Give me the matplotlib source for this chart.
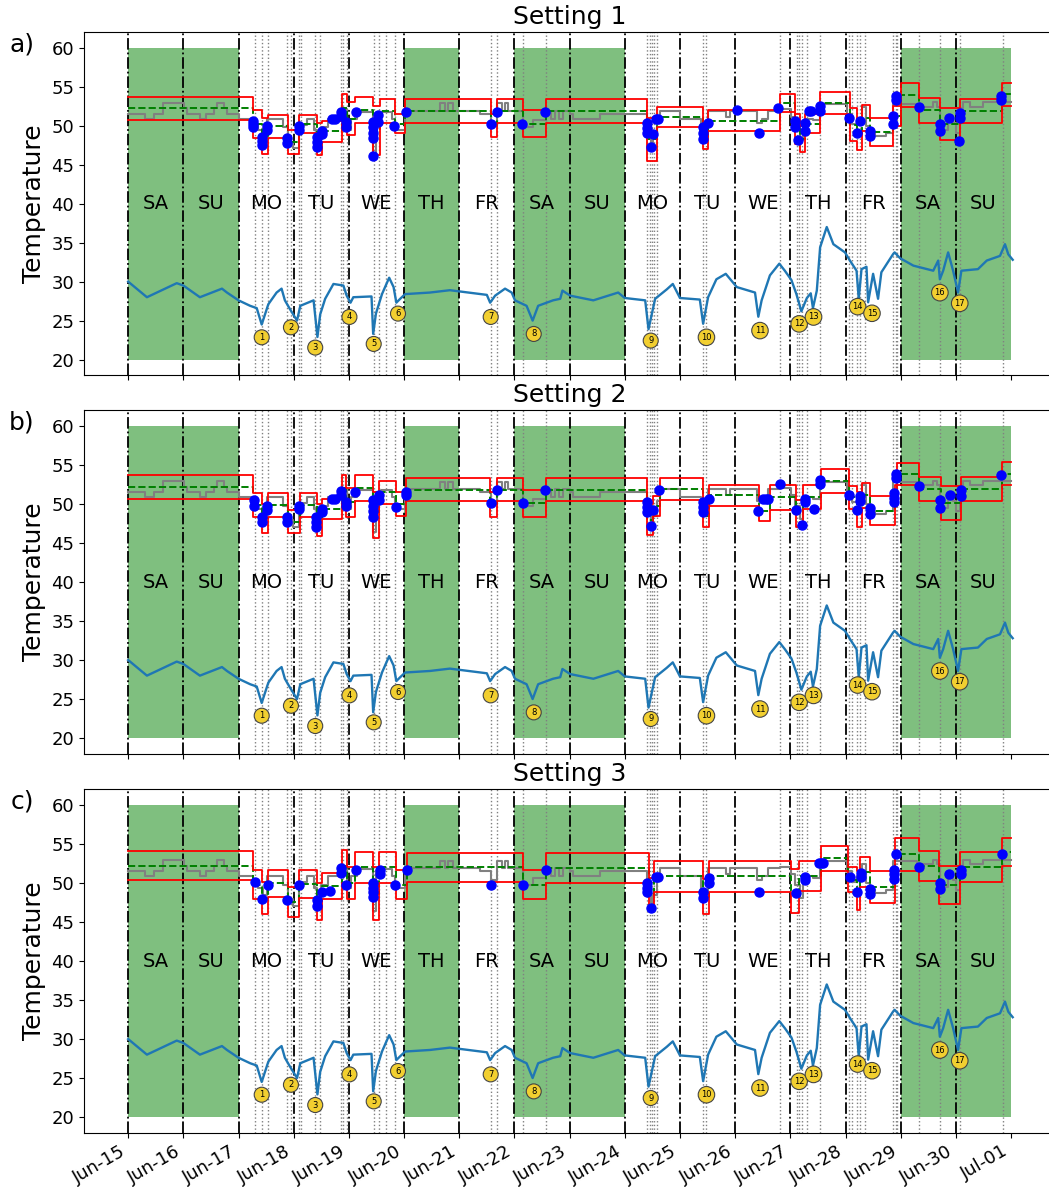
import matplotlib
matplotlib.use('Agg')
import matplotlib.pyplot as plt

# day-of-week names (one per day starting Jun-15) and date tick labels
day_names = ['SA', 'SU', 'MO', 'TU', 'WE', 'TH', 'FR', 'SA', 'SU',
             'MO', 'TU', 'WE', 'TH', 'FR', 'SA', 'SU']
date_labels = ['Jun-15', 'Jun-16', 'Jun-17', 'Jun-18', 'Jun-19', 'Jun-20',
               'Jun-21', 'Jun-22', 'Jun-23', 'Jun-24', 'Jun-25', 'Jun-26',
               'Jun-27', 'Jun-28', 'Jun-29', 'Jun-30', 'Jul-01']
# non-working periods (days after Jun-15)
off_start = [0, 5, 7, 14]
off_end = [2, 6, 9, 16]

# outdoor/room temperature trace (days after Jun-15, deg)
temp_t = [0.00, 0.34, 0.88, 1.00, 1.30, 1.70, 1.79, 2.00, 2.21, 2.33, 2.42, 2.54,
          2.69, 2.78, 2.84, 2.93, 3.06, 3.12, 3.36, 3.43, 3.48, 3.57, 3.72, 3.90,
          3.96, 4.03, 4.08, 4.41, 4.44, 4.49, 4.60, 4.73, 4.81, 4.86, 4.93, 5.02,
          5.47, 5.83, 6.50, 6.56, 6.65, 6.83, 6.95, 7.01, 7.22, 7.33, 7.43, 7.70,
          7.83, 7.87, 8.01, 8.43, 8.88, 9.00, 9.37, 9.43, 9.55, 9.76, 9.87, 10.00,
          10.36, 10.42, 10.51, 10.66, 10.83, 11.03, 11.36, 11.42, 11.48, 11.63,
          11.80, 11.90, 12.02, 12.11, 12.20, 12.30, 12.37, 12.41, 12.48, 12.54,
          12.66, 12.78, 12.99, 13.08, 13.20, 13.24, 13.29, 13.38, 13.41, 13.50,
          13.59, 13.65, 13.86, 13.89, 13.99, 14.23, 14.59, 14.68, 14.71, 14.77,
          14.86, 14.95, 15.04, 15.10, 15.40, 15.56, 15.80, 15.89, 15.95, 16.03]
temp_v = [30.0, 28.0, 29.8, 29.5, 28.0, 29.1, 28.6, 27.6, 26.9, 26.6, 24.5, 27.1,
          28.6, 29.1, 27.6, 26.5, 25.0, 26.9, 27.6, 22.9, 25.8, 27.8, 29.7, 29.5,
          28.2, 27.3, 28.0, 28.1, 23.3, 25.9, 28.4, 30.5, 29.3, 27.3, 27.8, 28.4,
          28.6, 28.9, 28.3, 27.3, 28.2, 29.1, 28.6, 27.6, 26.9, 25.0, 26.9, 27.6,
          27.8, 28.85, 28.2, 27.6, 28.6, 27.9, 27.6, 23.9, 27.8, 29.0, 29.7, 27.9,
          27.7, 24.6, 28.0, 30.3, 31.0, 29.3, 28.6, 25.5, 27.6, 30.8,
          32.3, 31.4, 30.2, 28.4, 26.2, 27.9, 28.5, 26.6, 28.85, 34.4,
          37.0, 34.8, 33.75, 32.7, 31.4, 27.8, 31.6, 31.9, 27.35, 31.0,
          27.8, 31.2, 33.5, 33.75, 33.0, 32.05, 31.4, 32.7, 30.3, 31.4,
          33.75, 31.4, 28.6, 31.4, 31.6, 32.7, 33.3, 34.8, 33.5, 32.8]

# numbered events
event_t = [2.42, 2.95, 3.39, 4.01, 4.45, 4.89, 6.57, 7.35, 9.47, 10.48, 11.45,
           12.16, 12.42, 13.22, 13.48, 14.71, 15.07]
event_v = [22.86, 24.14, 21.54, 25.47, 22.01, 25.90, 25.47, 23.29, 22.44, 22.86,
           23.72, 24.58, 25.47, 26.79, 25.94, 28.59, 27.22]
# control action times
action_t = [2.29, 2.42, 2.53, 2.87, 2.95, 3.09, 3.13, 3.39, 3.48, 3.86, 3.90, 3.96,
            4.46, 4.55, 4.67, 4.84, 6.57, 6.68, 7.15, 7.57, 9.41, 9.45, 9.49, 9.53,
            9.58, 10.42, 10.47, 11.81, 12.12, 12.16, 12.21, 12.30, 12.54, 13.07,
            13.11, 13.20, 13.26, 13.36, 13.86, 13.91, 13.94, 14.34, 14.71, 15.08,
            15.85]

# setpoint trace (shared by all settings)
set_t = [0.00, 0.31, 0.47, 0.63, 1.01, 1.06, 1.30, 1.41, 1.55, 1.61, 1.74, 1.79,
         2.00, 2.27, 2.36, 2.44, 2.51, 2.81, 2.89, 2.99, 3.09, 3.24, 3.36, 3.43,
         3.49, 3.63, 3.84, 3.96, 4.03, 4.14, 4.44, 4.50, 4.59, 4.78, 4.84, 5.02,
         5.11, 5.65, 5.74, 5.80, 5.89, 6.38, 6.57, 6.68, 6.77, 6.83, 6.89, 7.15,
         7.34, 7.57, 7.67, 7.73, 7.81, 7.88, 8.01, 8.07, 8.55, 9.03, 9.40, 9.47,
         9.52, 9.58, 9.64, 10.00, 10.39, 10.51, 10.84, 10.91, 11.39, 11.48, 11.60,
         11.81, 12.02, 12.08, 12.17, 12.23, 12.29, 12.41, 12.54, 13.02, 13.11,
         13.20, 13.29, 13.38, 13.44, 13.53, 13.74, 13.86, 14.29, 14.59, 14.65,
         14.71, 14.77, 14.86, 14.95, 15.01, 15.07, 15.13, 15.25, 15.49, 16.00]
set_v = [51.5, 50.85, 51.5, 52.95, 52.25, 51.5, 50.85, 51.5, 52.25, 52.95, 52.25, 51.5,
         50.85, 50.1, 49.4, 48.5, 50.9, 49.8, 47.9, 47.1, 50.1, 50.9, 49.4, 47.1,
         49.8, 50.9, 52.1, 49.4, 50.9, 51.8, 46.4, 51.5, 51.8, 50.9, 49.4, 51.5,
         51.9, 52.85, 51.9, 52.85, 51.9, 51.5, 50.4, 52.85, 51.9, 52.85, 51.9, 49.8,
         50.7, 51.9, 50.9, 51.9, 50.9, 51.9, 51.5, 50.9, 51.5, 51.5, 49.0, 47.5,
         48.5, 50.4, 51.9, 50.9, 49.0, 51.9, 51.1, 51.9, 50.4, 50.9, 51.9,
         52.1, 51.1, 49.8, 48.1, 50.0, 50.9, 50.7, 52.8, 51.5, 50.2,
         50.9, 52.4, 50.0, 49.1, 48.7, 49.1, 52.8, 52.4, 53.0, 52.4,
         50.2, 49.5, 51.1, 50.4, 49.1, 52.2, 53.0, 52.4, 53.0, 53.0]

# Setting 1: comfort band segments
s1_t = [0, 2.27, 2.42, 2.54, 2.89, 3.09, 3.42, 3.51, 3.87, 3.96, 4.11, 4.44, 4.56,
        4.84, 5.02, 6.57, 6.68, 7.15, 7.57, 9.41, 9.58, 10.42, 10.51, 11.81, 12.08,
        12.17, 12.26, 12.53, 13.08, 13.20, 13.29, 13.44, 13.86, 14.01, 14.33, 14.71,
        15.07, 15.84]
s1_hi = [53.7, 52.0, 51.0, 51.4, 49.4, 51.4, 50.4, 50.6, 54.0, 53.0, 53.7, 52.5, 53.4,
         51.5, 53.4, 51.5, 53.4, 52.0, 53.4, 51.0, 52.4, 50.0, 52.0, 54.0, 51.5,
         50.0, 51.5, 54.3, 52.2, 50.4, 52.7, 51.0, 52.5, 55.5, 53.5, 52.2,
         53.4, 55.5]
s1_lo = [50.7, 48.4, 46.4, 48.4, 46.4, 49.0, 46.2, 47.9, 50.4, 48.8, 50.4, 46.2, 50.4,
         49.0, 50.4, 48.5, 50.4, 48.5, 50.4, 45.5, 49.8, 47.0, 49.3, 51.8, 47.6,
         46.6, 49.0, 51.5, 48.0, 46.9, 49.3, 47.4, 49.9, 52.4, 50.4, 48.1,
         50.4, 52.5]
s1_dot_t = [2.27, 2.27, 2.27, 2.42, 2.42, 2.42, 2.52, 2.52, 2.87, 2.87, 3.10, 3.10,
            3.43, 3.43, 3.43, 3.51, 3.51, 3.70, 3.74, 3.86, 3.86, 3.94, 3.94, 4.12,
            4.44, 4.44, 4.44, 4.44, 4.44, 4.53, 4.53, 4.82, 5.04, 6.57, 6.68, 7.14,
            7.55, 9.41, 9.41, 9.41, 9.47, 9.52, 9.56, 9.60, 10.42, 10.42, 10.42,
            10.51, 11.04, 11.44, 11.78, 12.08, 12.08, 12.14, 12.26, 12.26, 12.33,
            12.38, 12.53, 12.53, 13.07, 13.20, 13.27, 13.44, 13.44, 13.86, 13.86,
            13.91, 13.91, 14.33, 14.71, 14.71, 14.88, 15.06, 15.08, 15.08, 15.82,
            15.82]
s1_dot_v = [50.6, 50.2, 49.8, 48.6, 48.0, 47.5, 49.9, 49.4, 48.4, 47.8, 49.9, 49.4,
            48.6, 47.9, 47.3, 49.3, 48.9, 50.9, 50.9, 51.8, 51.2, 50.5, 49.8, 51.8,
            50.5, 49.8, 49.1, 48.4, 46.1, 51.3, 50.5, 49.9, 51.7, 50.2, 51.7, 50.2,
            51.7, 50.4, 49.7, 49.1, 47.2, 48.9, 50.9, 50.9, 49.8, 49.0, 48.3,
            50.4, 52.0, 49.0, 52.2, 50.6, 49.8, 48.2, 50.4, 49.3, 51.9,
            51.9, 52.5, 51.9, 51.0, 49.1, 50.6, 49.3, 48.7, 51.2, 50.2,
            53.8, 53.3, 52.4, 50.2, 49.3, 51.0, 48.0, 51.6, 51.0, 53.8,
            53.3]

# Setting 2
s2_t = [0, 2.27, 2.43, 2.54, 2.90, 3.11, 3.43, 3.52, 3.87, 3.95, 4.11, 4.44, 4.55,
        4.85, 5.03, 6.56, 6.68, 7.15, 7.57, 9.41, 9.52, 9.63, 10.42, 10.53, 11.44,
        11.64, 12.11, 12.23, 12.56, 13.06, 13.21, 13.29, 13.44, 13.89, 13.93, 14.34,
        14.73, 15.10, 15.84]
s2_hi = [53.7, 51.4, 50.0, 51.4, 49.2, 51.4, 50.0, 50.7, 53.7, 52.0, 53.7, 51.5, 53.0,
         51.5, 53.3, 51.5, 53.3, 51.8, 53.3, 50.0, 51.0, 53.3, 49.8, 52.5, 50.5,
         52.4, 50.5, 52.4, 54.5, 52.3, 51.5, 52.7, 51.0, 52.5, 55.3, 53.5,
         52.3, 53.5, 55.4]
s2_lo = [50.7, 48.4, 46.3, 48.4, 46.3, 48.4, 45.9, 48.1, 50.3, 48.4, 50.4, 45.6, 50.0,
         48.5, 50.4, 48.4, 50.4, 48.4, 50.4, 46.0, 48.5, 50.5, 47.1, 49.8, 47.8,
         49.3, 47.1, 49.4, 51.4, 49.4, 47.1, 49.5, 47.3, 49.8, 52.4, 50.4,
         48.0, 50.4, 52.4]
s2_dot_t = [2.28, 2.28, 2.43, 2.43, 2.52, 2.52, 2.87, 2.87, 3.10, 3.10, 3.41, 3.41,
            3.41, 3.51, 3.51, 3.70, 3.74, 3.86, 3.86, 3.95, 3.95, 4.11, 4.44, 4.44,
            4.44, 4.44, 4.54, 4.54, 4.85, 5.03, 5.03, 6.57, 6.68, 7.15, 7.55, 9.41,
            9.41, 9.41, 9.48, 9.52, 9.62, 10.42, 10.42, 10.42, 10.52, 11.42, 11.50,
            11.56, 11.60, 11.82, 12.10, 12.22, 12.26, 12.26, 12.43, 12.54, 12.54,
            13.06, 13.20, 13.26, 13.26, 13.44, 13.44, 13.87, 13.87, 13.87, 13.91,
            13.91, 14.34, 14.72, 14.72, 14.89, 15.09, 15.09, 15.82]
s2_dot_v = [50.5, 49.8, 48.4, 47.7, 49.8, 49.2, 48.3, 47.7, 49.8, 49.4, 48.3, 47.7,
            47.1, 49.4, 49.0, 50.7, 50.7, 51.7, 51.1, 50.3, 49.8, 51.6, 50.5, 49.8,
            49.1, 48.4, 51.1, 50.5, 49.6, 51.5, 51.1, 50.1, 51.8, 50.1, 51.8, 50.3,
            49.6, 49.0, 47.2, 49.2, 51.8, 50.3, 49.6, 49.0, 50.6, 49.1, 50.6,
            50.6, 50.6, 52.6, 49.3, 47.3, 50.7, 50.2, 49.4, 53.1, 52.6,
            51.2, 49.3, 51.0, 50.4, 49.5, 48.7, 51.4, 50.8, 50.2, 53.9,
            53.3, 52.3, 50.5, 49.5, 51.2, 51.8, 51.0, 53.7]

# Setting 3
s3_t = [0, 2.27, 2.43, 2.54, 2.90, 3.10, 3.43, 3.52, 3.87, 3.97, 4.11, 4.44, 4.55,
        4.85, 5.05, 7.15, 7.57, 9.43, 9.53, 10.42, 10.53, 12.02, 12.16, 12.56, 13.05,
        13.21, 13.27, 13.44, 13.89, 14.34, 14.70, 15.08, 15.84]
s3_hi = [54.1, 51.7, 50.2, 51.7, 49.5, 51.7, 50.0, 51.3, 54.3, 52.0, 54.0, 52.0, 54.0,
         51.7, 53.9, 51.7, 53.9, 50.7, 52.8, 50.5, 52.8, 51.8, 52.8, 54.8, 52.0,
         51.5, 53.3, 51.5, 55.8, 54.1, 52.2, 54.0, 55.8]
s3_lo = [50.4, 47.9, 46.0, 48.2, 45.7, 48.1, 45.3, 47.9, 50.0, 47.9, 50.0, 45.3, 50.0,
         47.9, 50.1, 47.9, 50.0, 46.6, 48.9, 46.0, 48.9, 46.2, 49.0, 51.5, 48.9,
         46.5, 49.5, 47.5, 51.6, 50.3, 47.3, 50.2, 52.2]
s3_dot_t = [2.29, 2.43, 2.54, 2.88, 3.10, 3.42, 3.42, 3.52, 3.65, 3.86, 3.86, 3.95,
            4.13, 4.44, 4.44, 4.44, 4.44, 4.56, 4.56, 4.84, 5.05, 6.57, 7.15, 7.57,
            9.41, 9.41, 9.41, 9.47, 9.57, 9.60, 10.42, 10.42, 10.52, 10.52, 11.43,
            12.11, 12.26, 12.26, 12.52, 12.56, 12.60, 13.08, 13.21, 13.28, 13.28,
            13.44, 13.44, 13.87, 13.87, 13.87, 13.92, 14.34, 14.72, 14.72, 14.88,
            15.09, 15.09, 15.84]
s3_dot_v = [50.1, 47.9, 49.7, 47.8, 49.7, 47.8, 47.0, 48.8, 49.0, 51.9, 51.3, 49.8,
            51.7, 50.0, 49.4, 48.8, 48.2, 51.7, 51.1, 49.8, 51.7, 49.8, 49.8, 51.7,
            50.0, 49.4, 48.9, 46.8, 50.8, 50.8, 48.9, 48.1, 50.6, 50.0, 48.9,
            48.7, 50.8, 50.4, 52.6, 52.6, 52.6, 50.8, 48.9, 51.3, 50.8,
            49.3, 48.6, 51.7, 51.1, 50.5, 53.7, 52.0, 50.0, 49.2, 51.1,
            51.7, 51.1, 53.7]

settings = [
    ('Setting 1', 'a)', s1_t, s1_hi, s1_lo, s1_dot_t, s1_dot_v),
    ('Setting 2', 'b)', s2_t, s2_hi, s2_lo, s2_dot_t, s2_dot_v),
    ('Setting 3', 'c)', s3_t, s3_hi, s3_lo, s3_dot_t, s3_dot_v),
]
t_end = 16.0

fig = plt.figure(figsize=(10.49, 11.87), dpi=100)
bottoms = [0.6839, 0.3651, 0.0458]

for k, (title, tag, seg_t, hi, lo, dot_t, dot_v) in enumerate(settings):
    ax = fig.add_axes([0.0801, bottoms[k], 0.9258, 0.2891])

    for a, b in zip(off_start, off_end):
        ax.fill_between([a, b], 20, 60, color='green', alpha=0.5, lw=0, zorder=0)
    for d in range(16):
        ax.axvline(d, color='k', ls='-.', lw=1.3, zorder=1)
    for d in action_t:
        ax.axvline(d, color='gray', ls=':', lw=1, zorder=1)
    for d, name in enumerate(day_names):
        ax.text(d + 0.5, 40, name, ha='center', va='center', fontsize=14, zorder=2)

    # comfort band, its centre and the setpoint
    st = seg_t + [t_end]
    mid = [(h + l) / 2 for h, l in zip(hi, lo)]
    ax.plot(set_t, set_v, drawstyle='steps-post', color='gray', lw=1.5, zorder=3)
    ax.plot(st, mid + [mid[-1]], drawstyle='steps-post', color='green', ls='--',
            lw=1.4, zorder=4)
    ax.plot(st, hi + [hi[-1]], drawstyle='steps-post', color='red', lw=1.3, zorder=5)
    ax.plot(st, lo + [lo[-1]], drawstyle='steps-post', color='red', lw=1.3, zorder=5)
    ax.plot(dot_t, dot_v, 'o', color='blue', ms=6.5, zorder=6)

    ax.plot(temp_t, temp_v, color='#1f77b4', lw=1.7, zorder=4)
    for n, (et, ev) in enumerate(zip(event_t, event_v), start=1):
        ax.text(et, ev, str(n), ha='center', va='center', fontsize=6, zorder=7,
                bbox=dict(boxstyle='circle,pad=0.36', fc='#f2cf30', ec='#444444', lw=0.8))

    ax.set_xlim(-0.8, 16.8)
    ax.set_ylim(18, 62)
    ax.set_yticks(range(20, 61, 5))
    ax.set_xticks(range(17))
    ax.tick_params(labelsize=13)
    ax.set_ylabel('Temperature', fontsize=18)
    ax.set_title(title, fontsize=18)
    if k == 2:
        ax.set_xticklabels(date_labels, rotation=30, ha='right')
    else:
        ax.set_xticklabels([])
    fig.text(0.021, bottoms[k] + 0.2891 - 0.0105, tag, fontsize=18, ha='center',
             va='center')

fig.savefig('out.png', dpi=100)
